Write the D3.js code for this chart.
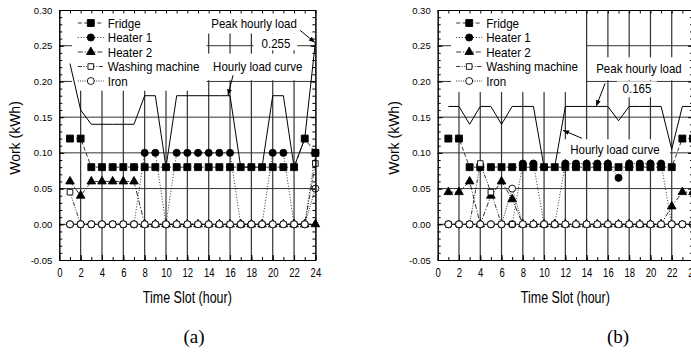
<!DOCTYPE html>
<html>
<head>
<meta charset="utf-8">
<script src="https://cdn.jsdelivr.net/npm/d3@7"></script>
<style>
  body { margin: 0; background: #fff; }
  svg { display: block; font-family: "Liberation Sans", Arial, sans-serif; }
</style>
</head>
<body>
<svg id="chart" width="691" height="356"></svg>
<script>
const hours = d3.range(1, 25);
const xTicks = d3.range(0, 25, 2);
const yTicks = [-0.05, 0, 0.05, 0.10, 0.15, 0.20, 0.25, 0.30];
const seriesNames = ['Fridge', 'Heater 1', 'Heater 2', 'Washing machine', 'Iron'];

// panel (a) - one value per time slot 1..24
const fridgeA   = [0.12, 0.12, 0.08, 0.08, 0.08, 0.08, 0.08, 0.08, 0.08, 0.08, 0.08, 0.08, 0.08, 0.08, 0.08, 0.08, 0.08, 0.08, 0.08, 0.08, 0.08, 0.08, 0.12, 0.10];
const heater1A  = [0, 0, 0, 0, 0, 0, 0, 0.10, 0.10, 0, 0.10, 0.10, 0.10, 0.10, 0.10, 0.10, 0, 0, 0, 0.10, 0.10, 0, 0, 0.10];
const heater2A  = [0.06, 0.04, 0.06, 0.06, 0.06, 0.06, 0.06, 0, 0, 0, 0, 0, 0, 0, 0, 0, 0, 0, 0, 0, 0, 0, 0, 0];
const washerA   = [0.045, 0, 0, 0, 0, 0, 0, 0, 0, 0, 0, 0, 0, 0, 0, 0, 0, 0, 0, 0, 0, 0, 0, 0.085];
const ironA     = [0, 0, 0, 0, 0, 0, 0, 0, 0, 0, 0, 0, 0, 0, 0, 0, 0, 0, 0, 0, 0, 0, 0, 0.05];
const loadA     = [0.225, 0.16, 0.14, 0.14, 0.14, 0.14, 0.14, 0.18, 0.18, 0.08, 0.18, 0.18, 0.18, 0.18, 0.18, 0.18, 0.08, 0.08, 0.08, 0.18, 0.18, 0.08, 0.12, 0.255];

// panel (b)
const fridgeB   = [0.12, 0.12, 0.08, 0.08, 0.08, 0.08, 0.08, 0.08, 0.08, 0.08, 0.08, 0.08, 0.08, 0.08, 0.08, 0.08, 0.08, 0.08, 0.08, 0.08, 0.08, 0.08, 0.12, 0.12];
const heater1B  = [0, 0, 0, 0, 0, 0, 0, 0.085, 0.085, 0, 0, 0.085, 0.085, 0.085, 0.085, 0.085, 0.065, 0.085, 0.085, 0.085, 0.085, 0, 0, 0];
const heater2B  = [0.045, 0.045, 0.06, 0, 0.04, 0.06, 0.035, 0, 0, 0, 0, 0, 0, 0, 0, 0, 0, 0, 0, 0, 0, 0.025, 0.045, 0.045];
const washerB   = [0, 0, 0, 0.085, 0.045, 0, 0, 0, 0, 0, 0, 0, 0, 0, 0, 0, 0, 0, 0, 0, 0, 0, 0, 0];
const ironB     = [0, 0, 0, 0, 0, 0, 0.05, 0, 0, 0, 0, 0, 0, 0, 0, 0, 0, 0, 0, 0, 0, 0, 0, 0];
const loadB     = [0.165, 0.165, 0.14, 0.165, 0.165, 0.14, 0.165, 0.165, 0.165, 0.08, 0.08, 0.165, 0.165, 0.165, 0.165, 0.165, 0.145, 0.165, 0.165, 0.165, 0.165, 0.105, 0.165, 0.165];

const peakA = '0.255';
const peakB = '0.165';

// line / marker look of each appliance
const styles = [
  { dash: '4,2.5',         symbol: d3.symbolSquare,   size: 48, fill: '#000' },
  { dash: '1,1.8',         symbol: d3.symbolCircle,   size: 40, fill: '#000' },
  { dash: '5,1.8,1.2,1.8', symbol: d3.symbolTriangle, size: 32, fill: '#000' },
  { dash: '4,1.5,1,1.5,1,1.5', symbol: d3.symbolSquare, size: 32, fill: '#fff' },
  { dash: '1,1.3',         symbol: d3.symbolCircle,   size: 38, fill: '#fff' }
];

const svg = d3.select('#chart');
svg.append('defs').append('marker')
  .attr('id', 'arrow')
  .attr('viewBox', '0 0 10 10')
  .attr('refX', 10).attr('refY', 5)
  .attr('markerWidth', 7).attr('markerHeight', 6)
  .attr('orient', 'auto')
  .append('path').attr('d', 'M0,1 L10,5 L0,9 z').attr('fill', '#000');

const plotTop = 10, plotBottom = 260;

const panels = [
  {
    left: 59.3, right: 315.4, label: '(a)', labelX: 194,
    series: [fridgeA, heater1A, heater2A, washerA, ironA], load: loadA,
    boxes: [[1.2, 13.8, 0.187, 0.30], [13.65, 24, 0.267, 0.30], [18.2, 22.3, 0.2436, 0.267], [13.84, 24, 0.2016, 0.239]],
    notes: [['Peak hourly load', 18.25, 0.2814], [peakA, 20.3, 0.2534], ['Hourly load curve', 18.6, 0.221]],
    arrows: [[22.56, 0.2716, 23.95, 0.2545], [16.28, 0.2086, 15.81, 0.1806]]
  },
  {
    left: 437.7, right: 693, label: '(b)', labelX: 618,
    series: [fridgeB, heater1B, heater2B, washerB, ironB], load: loadB,
    boxes: [[1.25, 13.94, 0.185, 0.30], [14.22, 24.5, 0.2016, 0.2338], [16.85, 20.61, 0.1778, 0.2002], [11.55, 21.83, 0.091, 0.119]],
    notes: [['Peak hourly load', 18.92, 0.2184], [peakB, 18.73, 0.1904], ['Hourly load curve', 16.66, 0.105]],
    arrows: [[15.74, 0.1974, 14.9, 0.1652], [13.56, 0.1204, 11.78, 0.1316]]
  }
];

const fmt = d => d.toFixed(2);

panels.forEach(p => {
  const x = d3.scaleLinear().domain([0, 24]).range([p.left, p.right]);
  const y = d3.scaleLinear().domain([-0.05, 0.30]).range([plotBottom, plotTop]);
  const g = svg.append('g');

  // grid
  g.append('g').selectAll('line')
    .data(yTicks.filter(v => v > -0.05 && v < 0.30))
    .join('line')
    .attr('x1', p.left).attr('x2', p.right)
    .attr('y1', d => y(d)).attr('y2', d => y(d))
    .attr('stroke', '#333').attr('stroke-width', 1);
  g.append('g').selectAll('line')
    .data(xTicks.filter(v => v > 0 && v < 24))
    .join('line')
    .attr('x1', d => x(d)).attr('x2', d => x(d))
    .attr('y1', plotTop).attr('y2', plotBottom)
    .attr('stroke', '#333').attr('stroke-width', 1.2);

  // white label boxes
  g.append('g').selectAll('rect')
    .data(p.boxes)
    .join('rect')
    .attr('x', d => x(d[0])).attr('width', d => x(d[1]) - x(d[0]))
    .attr('y', d => y(d[3])).attr('height', d => y(d[2]) - y(d[3]))
    .attr('fill', '#fff');

  // appliance series
  p.series.forEach((vals, k) => {
    const st = styles[k];
    const line = d3.line().x((d, i) => x(hours[i])).y(d => y(d));
    g.append('path')
      .attr('d', line(vals))
      .attr('fill', 'none').attr('stroke', '#000')
      .attr('stroke-width', 0.8).attr('stroke-dasharray', st.dash);
    g.append('g').selectAll('path')
      .data(vals)
      .join('path')
      .attr('transform', (d, i) => `translate(${x(hours[i])},${y(d)})`)
      .attr('d', d3.symbol(st.symbol, st.size))
      .attr('fill', st.fill).attr('stroke', '#000').attr('stroke-width', 0.9);
  });

  // hourly load
  g.append('path')
    .attr('d', d3.line().x((d, i) => x(hours[i])).y(d => y(d))(p.load))
    .attr('fill', 'none').attr('stroke', '#000').attr('stroke-width', 1);

  // arrows
  g.append('g').selectAll('line')
    .data(p.arrows)
    .join('line')
    .attr('x1', d => x(d[0])).attr('y1', d => y(d[1]))
    .attr('x2', d => x(d[2])).attr('y2', d => y(d[3]))
    .attr('stroke', '#000').attr('stroke-width', 1)
    .attr('marker-end', 'url(#arrow)');

  // annotation text
  g.append('g').selectAll('text')
    .data(p.notes)
    .join('text')
    .attr('transform', d => `translate(${x(d[1])},${y(d[2])}) scale(1,1.12)`)
    .attr('dy', '0.36em')
    .attr('text-anchor', 'middle')
    .attr('font-size', 11.5)
    .text(d => d[0]);

  // legend
  const lg = g.append('g').attr('transform', `translate(${p.left + 31.5},${plotTop + 13})`);
  seriesNames.forEach((name, k) => {
    const st = styles[k];
    const row = lg.append('g').attr('transform', `translate(0,${k * 14.5})`);
    row.append('line').attr('x1', -13).attr('x2', 13)
      .attr('stroke', '#000').attr('stroke-width', 0.8).attr('stroke-dasharray', st.dash);
    row.append('path').attr('d', d3.symbol(st.symbol, st.size))
      .attr('fill', st.fill).attr('stroke', '#000').attr('stroke-width', 0.9);
    row.append('text').attr('x', 17).attr('dy', '0.36em')
      .attr('transform', 'scale(1,1.1)')
      .attr('font-size', 11.6).text(name);
  });

  // axes, ticks inward
  const axes = g.append('g');
  const bx = axes.append('g').attr('transform', `translate(0,${plotBottom})`)
    .call(d3.axisBottom(x).tickValues(xTicks).tickSize(-5).tickSizeOuter(0).tickPadding(9).tickFormat(d3.format('d')));
  axes.append('g').attr('transform', `translate(0,${plotBottom})`)
    .call(d3.axisBottom(x).tickValues(hours).tickSize(-3).tickSizeOuter(0).tickFormat(''));
  axes.append('g').attr('transform', `translate(0,${plotTop})`)
    .call(d3.axisTop(x).tickValues(d3.range(0, 25)).tickSize(-3.5).tickSizeOuter(0).tickFormat(''));
  const ly = axes.append('g').attr('transform', `translate(${p.left},0)`)
    .call(d3.axisLeft(y).tickValues(yTicks).tickSize(-5).tickSizeOuter(0).tickPadding(7).tickFormat(fmt));
  axes.append('g').attr('transform', `translate(${p.left},0)`)
    .call(d3.axisLeft(y).tickValues(d3.range(-5, 31).map(i => i / 100)).tickSize(-3).tickSizeOuter(0).tickFormat(''));
  axes.append('g').attr('transform', `translate(${p.right},0)`)
    .call(d3.axisRight(y).tickValues(d3.range(-5, 31).map(i => i / 100)).tickSize(-3).tickSizeOuter(0).tickFormat(''));
  axes.append('g').attr('transform', `translate(${p.right},0)`)
    .call(d3.axisRight(y).tickValues(yTicks).tickSize(-5).tickSizeOuter(0).tickFormat(''));
  axes.selectAll('.domain').attr('stroke', '#000');
  axes.selectAll('.tick line').attr('stroke', '#000');
  axes.selectAll('g').attr('font-family', null);
  bx.selectAll('text').attr('font-size', 9.5).attr('fill', '#000')
    .attr('y', 6).attr('transform', 'scale(1,1.3)');
  ly.selectAll('text').attr('font-size', 9.5).attr('fill', '#000');

  // titles
  g.append('text')
    .attr('transform', `translate(${x(12)},303) scale(1,1.25)`)
    .attr('text-anchor', 'middle').attr('font-size', 12.5).attr('font-weight', 'normal')
    .text('Time Slot (hour)');
  g.append('text')
    .attr('transform', `translate(${p.left - 44},${(plotTop + plotBottom) / 2 + 3}) rotate(-90)`)
    .attr('dy', '0.36em')
    .attr('text-anchor', 'middle').attr('font-size', 14)
    .text('Work (kWh)');
  svg.append('text')
    .attr('x', p.labelX).attr('y', 343)
    .attr('text-anchor', 'middle')
    .attr('font-family', '"Liberation Serif", "Times New Roman", serif')
    .attr('font-size', 19)
    .text(p.label);
});
</script>
</body>
</html>
